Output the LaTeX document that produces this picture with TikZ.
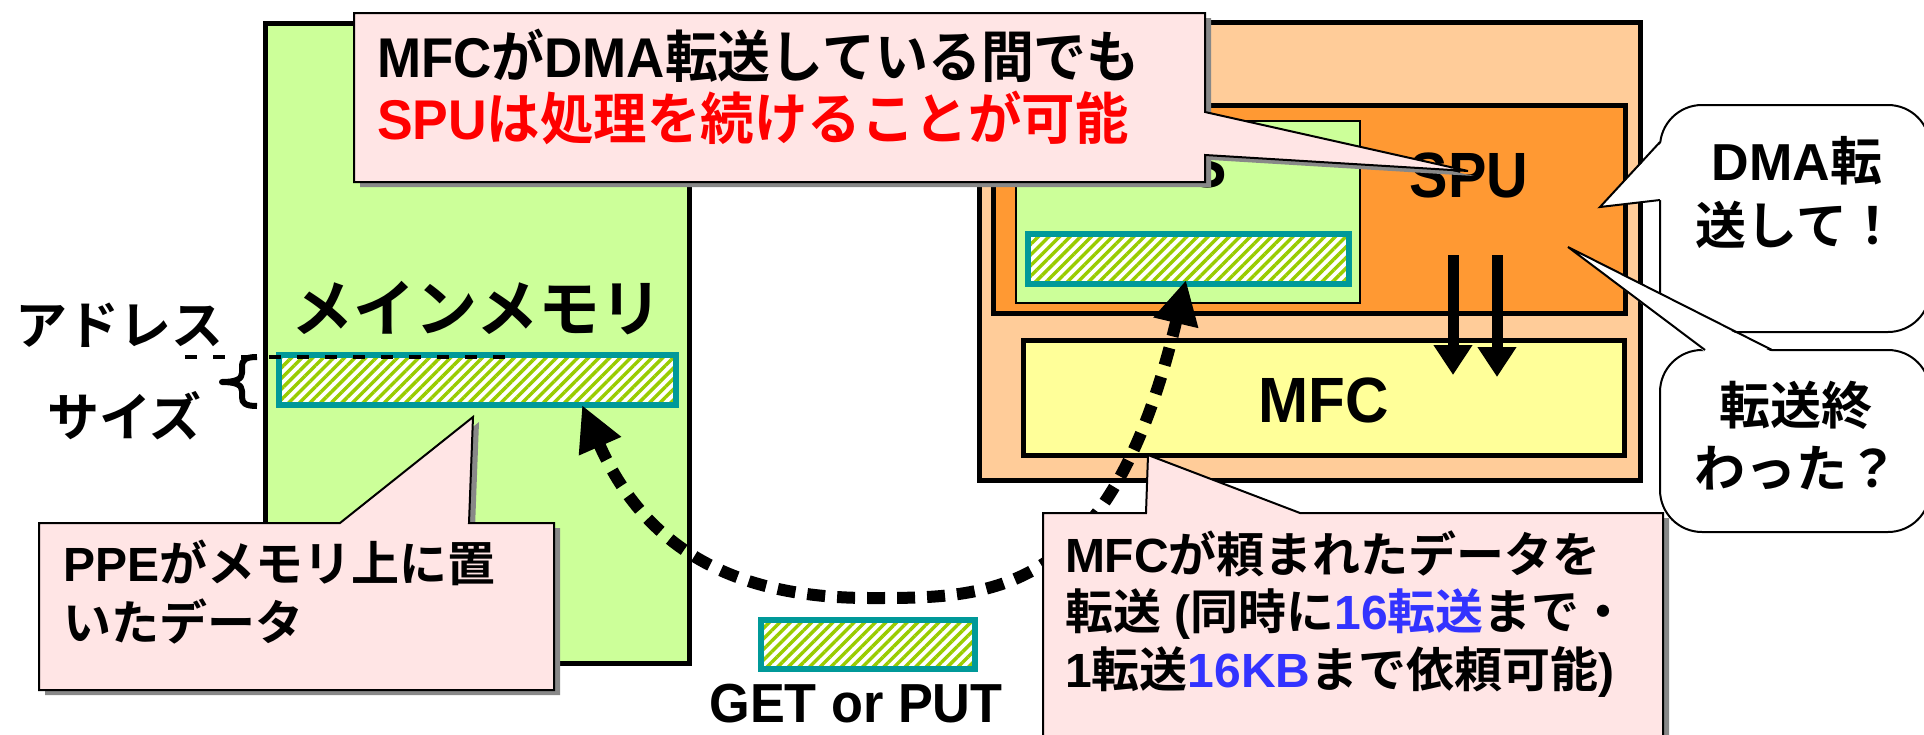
\documentclass[tikz,border=0pt]{standalone}
\usepackage{fontspec}
\usepackage{graphicx}
\setmainfont{Liberation Sans}
\newfontfamily\jpf{Noto Sans CJK JP Black}
\usetikzlibrary{arrows.meta,patterns.meta}
\definecolor{memgreen}{HTML}{CCFF99}
\definecolor{speorange}{HTML}{FFCC99}
\definecolor{spuorange}{HTML}{FF9933}
\definecolor{mfcyellow}{HTML}{FFFF99}
\definecolor{barteal}{HTML}{009999}
\definecolor{hatchgreen}{HTML}{99CC00}
\definecolor{calloutpink}{HTML}{FFE5E5}
\definecolor{shadowgray}{HTML}{888888}
\definecolor{txtred}{HTML}{FF0000}
\definecolor{txtblue}{HTML}{3333FF}
\newcommand\J[1]{{\jpf #1}}
\newcommand\fsz[1]{\fontsize{#1}{#1}\selectfont\bfseries}
\begin{document}
\begin{tikzpicture}[x=1pt,y=-1pt,
  blockbox/.style={draw=black, line width=5pt, inner sep=0pt, outer sep=0pt, anchor=north west},
  hatchbar/.style={preaction={fill=white}, pattern={Lines[angle=45,distance=7.5pt,line width=3.4pt]}, pattern color=hatchgreen, draw=barteal, line width=5.5pt, inner sep=0pt, outer sep=0pt, anchor=north west},
  txt/.style={inner sep=0pt, outer sep=0pt, anchor=base},
  txtl/.style={inner sep=0pt, outer sep=0pt, anchor=base west},
  pinkcallout/.style={fill=calloutpink, draw=black, line width=2pt, line join=miter},
  shadowfill/.style={fill=shadowgray},
  whitecallout/.style={fill=white, draw=black, line width=2pt},
  fatarrow/.style={line width=11pt, -{Triangle[length=30pt,width=37pt]}},
  dasharrow/.style={line width=12pt, dash pattern=on 18pt off 12pt, {Triangle[length=45pt,width=43pt]}-{Triangle[length=44pt,width=43pt]}},
  addrdash/.style={line width=4pt, dash pattern=on 12pt off 16pt},
  bracemark/.style={line width=6pt, line cap=butt, line join=round},
]
\useasboundingbox (0,0) rectangle (1924,734);
\clip (0,0) rectangle (1924,734);
\fill[white] (0,0) rectangle (1924,734);

% main memory
\node[blockbox, fill=memgreen, minimum width=424pt, minimum height=640pt] (mem) at (265,23) {};
% SPE
\node[blockbox, fill=speorange, minimum width=661pt, minimum height=458pt] (spe) at (979,22) {};
\node[blockbox, fill=spuorange, minimum width=632pt, minimum height=208pt] (spu) at (993,105) {};
\node[blockbox, fill=memgreen, line width=2pt, minimum width=344pt, minimum height=182pt] (ls) at (1016,121) {};
\node[txt, anchor=base east, font=\fsz{64}] (lslabel) at (1227,187) {\scalebox{0.9}[1]{LS}};
\node[txt, font=\fsz{64}] (spulabel) at (1469,197) {\scalebox{0.9}[1]{SPU}};
\node[hatchbar, minimum width=321pt, minimum height=50pt] (lsbar) at (1028,234) {};
\node[blockbox, fill=mfcyellow, minimum width=601pt, minimum height=115pt] (mfc) at (1023,340) {};
\node[txt, font=\fsz{64}] (mfclabel) at (1324,422) {\scalebox{0.94}[1]{MFC}};

% SPU -> MFC requests
\coordinate (req1s) at (1453,255);
\coordinate (req1e) at (1453,375);
\coordinate (req2s) at (1497,255);
\coordinate (req2e) at (1497,377);
\draw[fatarrow] (req1s) -- (req1e);
\draw[fatarrow] (req2s) -- (req2e);

% memory content
\node[txt, font=\fsz{62}] (memlabel) at (477,331) {\J{メインメモリ}};
\node[hatchbar, minimum width=397pt, minimum height=50pt] (membar) at (279,355) {};
\node[hatchbar, minimum width=214pt, minimum height=49pt] (getbar) at (761,620) {};
\node[txt, font=\fsz{55}] (getput) at (856,722) {\scalebox{0.95}[1]{GET or PUT}};

% address / size
\node[txtl, font=\fsz{52}] (addr) at (16,344) {\J{アドレス}};
\node[txtl, font=\fsz{52}] (size) at (47,436) {\J{サイズ}};
\coordinate (dashs) at (185,357);
\coordinate (dashe) at (509,357);
\draw[addrdash] (dashs) -- (dashe);
\coordinate (brt) at (257,357);
\coordinate (brtip) at (222,382);
\coordinate (brb) at (257,406);
\draw[bracemark] (brt) .. controls (245,357) and (242,360) .. (242,367) -- (242,373)
  .. controls (242,379) and (236,382) .. (brtip)
  .. controls (236,382) and (242,385) .. (242,391) -- (242,397)
  .. controls (242,403) and (245,406) .. (brb);

% DMA transfer path
\coordinate (memEnd) at (582,405);
\coordinate (curveLow) at (870,598);
\coordinate (lsEnd) at (1186,280);
\draw[dasharrow] (memEnd) .. controls (650,560) and (750,598) .. (curveLow) .. controls (990,598) and (1110,600) .. (lsEnd);

% top callout
\fill[shadowfill, shift={(6,5)}] (354,13) -- (1205,13) -- (1205,112) -- (1468,171) -- (1205,155) -- (1205,182) -- (354,182) -- cycle;
\draw[pinkcallout] (354,13) -- (1205,13) -- (1205,112) -- (1468,171) -- (1205,155) -- (1205,182) -- (354,182) -- cycle;
\node[txtl, font=\fsz{56}] (topl1) at (377,77) {\scalebox{0.945}[1]{MFC\J{が}DMA\J{転送している間でも}}};
\node[txtl, font=\fsz{56}, text=txtred] (topl2) at (377,139) {\scalebox{0.955}[1]{SPU\J{は処理を続けることが可能}}};

% PPE callout
\fill[shadowfill, shift={(6,5)}] (39,523) -- (340,523) -- (473,417) -- (469,523) -- (554,523) -- (554,690) -- (39,690) -- cycle;
\draw[pinkcallout] (39,523) -- (340,523) -- (473,417) -- (469,523) -- (554,523) -- (554,690) -- (39,690) -- cycle;
\node[txtl, font=\fsz{48}] (ppe1) at (63,581) {PPE\J{がメモリ上に置}};
\node[txtl, font=\fsz{48}] (ppe2) at (63,640) {\J{いたデータ}};

% MFC callout
\fill[shadowfill, shift={(6,5)}] (1043,513) -- (1146,513) -- (1148,455) -- (1300,513) -- (1663,513) -- (1663,760) -- (1043,760) -- cycle;
\draw[pinkcallout] (1043,513) -- (1146,513) -- (1148,455) -- (1300,513) -- (1663,513) -- (1663,760) -- (1043,760) -- cycle;
\node[txtl, font=\fsz{48}] (mfc1) at (1065,572) {MFC\J{が頼まれたデータを}};
\node[txtl, font=\fsz{48}] (mfc2) at (1065,629) {\J{転送} (\J{同時に}\textcolor{txtblue}{16\J{転送}}\J{まで・}};
\node[txtl, font=\fsz{48}] (mfc3) at (1065,687) {1\J{転送}\textcolor{txtblue}{16KB}\J{まで依頼可能})};

% DMA request callout
\draw[whitecallout, rounded corners=42pt] (1660,105) rectangle (1930,332);
\fill[white] (1662,142) -- (1600,207) -- (1662,200) -- cycle;
\draw[line width=2pt, line join=miter] (1660,142) -- (1600,207) -- (1660,200);
\node[txt, font=\fsz{52}] (dma1) at (1797,180) {DMA\J{転}};
\node[txt, font=\fsz{51}] (dma2) at (1797,244) {\J{送して！}};

% transfer finished callout
\draw[whitecallout, rounded corners=42pt] (1660,350) rectangle (1930,532);
\fill[white] (1705,352) -- (1568,247) -- (1772,352) -- cycle;
\draw[line width=2pt, line join=miter] (1705,350) -- (1568,247) -- (1772,350);
\node[txt, font=\fsz{51}] (end1) at (1796,424) {\J{転送終}};
\node[txt, font=\fsz{51}] (end2) at (1796,487) {\J{わった？}};
\end{tikzpicture}
\end{document}
